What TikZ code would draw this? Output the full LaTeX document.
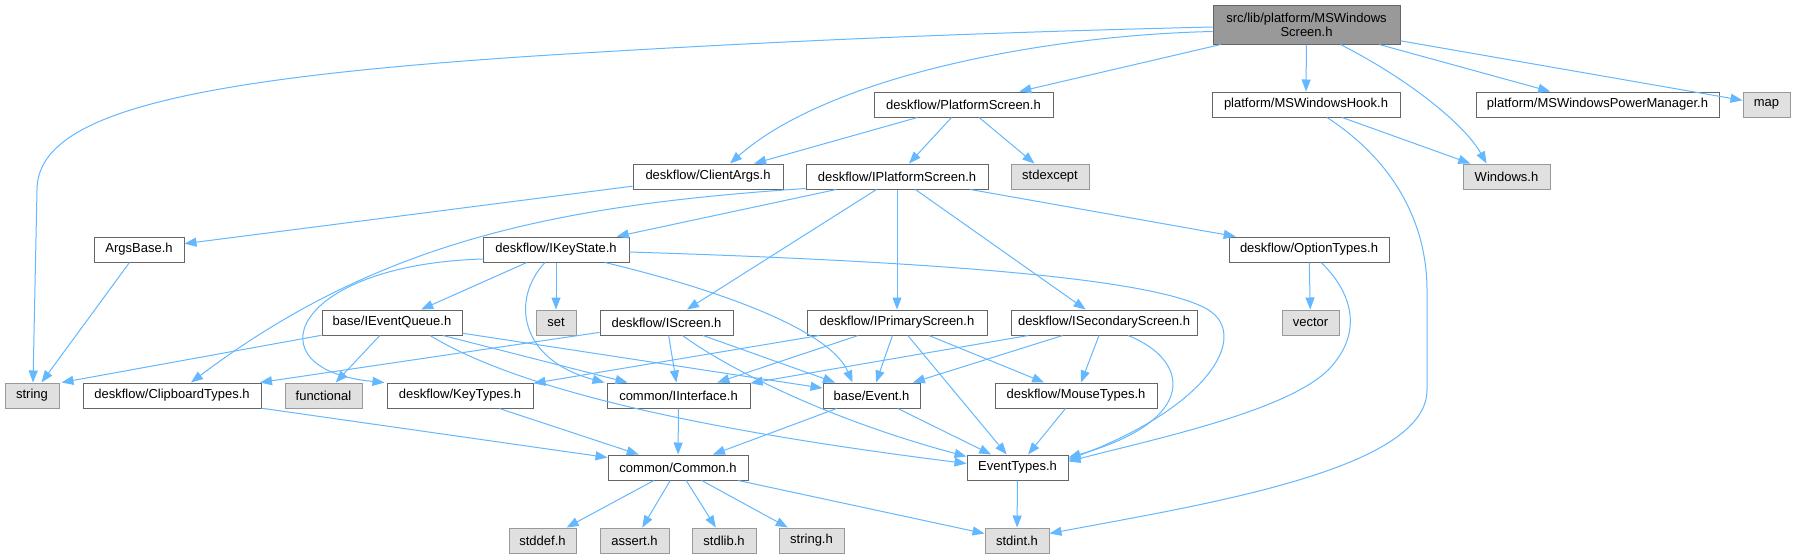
\documentclass[tikz,border=0pt]{standalone}
\usepackage{fontspec}
\setmainfont{Liberation Sans}
\usetikzlibrary{arrows.meta,calc}
\definecolor{edgec}{HTML}{63B8FF}
\definecolor{bordc}{HTML}{666666}
\definecolor{gbord}{HTML}{999999}
\definecolor{gfill}{HTML}{E0E0E0}
\definecolor{rootfill}{HTML}{999999}
\begin{document}
\begin{tikzpicture}[x=1pt,y=-1pt,
  box/.style={draw=bordc, fill=white, line width=1pt, inner sep=0pt, minimum height=25pt,
    font=\fontsize{13}{14}\selectfont, text=black},
  sys/.style={box, draw=gbord, fill=gfill},
  edge/.style={draw=edgec, line width=1pt, -{Triangle[length=12pt,width=9pt]}}]
\fill[white] (0,0) rectangle (1795,558);
\useasboundingbox (0,0) rectangle (1795,558);
% nodes
\node[box, fill=rootfill, minimum width=187pt, minimum height=39pt, align=center] (root) at (1306.5,24.5) {src/lib/platform/MSWindows\\Screen.h};
\node[box, minimum width=179pt] (ps) at (963.5,104.5) {deskflow/PlatformScreen.h};
\node[box, minimum width=150pt] (ca) at (708,176.5) {deskflow/ClientArgs.h};
\node[box, minimum width=182pt] (ips) at (897,176.5) {deskflow/IPlatformScreen.h};
\node[sys, minimum width=78pt] (stdexc) at (1050,176.5) {stdexcept};
\node[box, minimum width=188pt] (hook) at (1306,104.5) {platform/MSWindowsHook.h};
\node[box, minimum width=243pt] (pm) at (1597.5,104.5) {platform/MSWindowsPowerManager.h};
\node[sys, minimum width=47pt] (map) at (1766.5,104.5) {map};
\node[sys, minimum width=87pt] (win) at (1506.5,176.5) {Windows.h};
\node[box, minimum width=160pt] (opt) at (1309,249.5) {deskflow/OptionTypes.h};
\node[box, minimum width=90pt] (ab) at (139,249.5) {ArgsBase.h};
\node[box, minimum width=146pt] (iks) at (556,249.5) {deskflow/IKeyState.h};
\node[box, minimum width=140pt] (ieq) at (392,322.5) {base/IEventQueue.h};
\node[sys, minimum width=40pt] (setn) at (556,322.5) {set};
\node[box, minimum width=133pt] (iscr) at (666.5,322.5) {deskflow/IScreen.h};
\node[box, minimum width=180pt] (ipri) at (897,322.5) {deskflow/IPrimaryScreen.h};
\node[box, minimum width=186pt] (isec) at (1104,322.5) {deskflow/ISecondaryScreen.h};
\node[sys, minimum width=57pt] (vec) at (1310.5,322.5) {vector};
\node[sys, minimum width=54pt] (str) at (32,395.5) {string};
\node[box, minimum width=178pt] (clip) at (172,395.5) {deskflow/ClipboardTypes.h};
\node[sys, minimum width=77pt] (func) at (323.5,395.5) {functional};
\node[box, minimum width=146pt] (kt) at (460,395.5) {deskflow/KeyTypes.h};
\node[box, minimum width=143pt] (ii) at (678.5,395.5) {common/IInterface.h};
\node[box, minimum width=97pt] (ev) at (871.5,395.5) {base/Event.h};
\node[box, minimum width=162pt] (mt) at (1076,395.5) {deskflow/MouseTypes.h};
\node[box, minimum width=140pt] (com) at (678,467.5) {common/Common.h};
\node[box, minimum width=101pt] (et) at (1017.5,467.5) {EventTypes.h};
\node[sys, minimum width=67pt] (stddef) at (542.5,540.5) {stddef.h};
\node[sys, minimum width=69pt] (asrt) at (634.5,540.5) {assert.h};
\node[sys, minimum width=64pt] (stdlib) at (724,540.5) {stdlib.h};
\node[sys, minimum width=65pt] (strh) at (811.5,540.5) {string.h};
\node[sys, minimum width=64pt] (stdint) at (1017,540.5) {stdint.h};
% root edges
\draw[edge] ($(root.west)+(0,2.5)$) .. controls (1000,32) and (800,40) .. (600,52) .. controls (200,75) and (37,110) .. (37,190) -- ($(str.north)+(1,0)$);
\draw[edge] ($(root.west)+(0,7)$) .. controls (1050,35) and (830,75) .. ($(ca.north)+(22,0)$);
\draw[edge] (root) -- (ps);
\draw[edge] (root) -- (hook);
\draw[edge] ($(root.south)+(34,0)$) .. controls (1410,80) and (1465,125) .. ($(win.north)+(-20,0)$);
\draw[edge] (root) -- (pm);
\draw[edge] (root) -- (map);
% second level
\draw[edge] (ps) -- (ca);
\draw[edge] (ps) -- (ips);
\draw[edge] (ps) -- (stdexc);
\draw[edge] (ca) -- (ab);
\draw[edge] (ab) -- (str);
\draw[edge] (hook) -- (win);
\draw[edge] ($(hook.south)+(21,0)$) .. controls (1400,165) and (1427,230) .. (1427,290) -- (1427,390) .. controls (1427,470) and (1200,505) .. ($(stdint.east)+(0,-7)$);
% IPlatformScreen
\draw[edge] ($(ips.south west)+(0,-1)$) .. controls (560,205) and (380,240) .. ($(clip.north)+(19,0)$);
\draw[edge] (ips) -- (iks);
\draw[edge] (ips) -- (iscr);
\draw[edge] (ips) -- (ipri);
\draw[edge] (ips) -- (isec);
\draw[edge] (ips) -- (opt);
\draw[edge] (opt) -- (vec);
\draw[edge] ($(opt.south)+(12,0)$) .. controls (1350,290) and (1365,330) .. (1330,368) .. controls (1290,411) and (1150,440) .. ($(et.east)+(0,-6)$);
% IKeyState
\draw[edge] (iks) -- (ieq);
\draw[edge] (iks) -- (setn);
\draw[edge] ($(iks.west)+(0,9.5)$) .. controls (290,265) and (250,370) .. ($(kt.north west)+(-2,0)$);
\draw[edge] ($(iks.south)+(-11,0)$) .. controls (510,300) and (520,360) .. ($(ii.north west)+(-2,0)$);
\draw[edge] ($(iks.south)+(49,0)$) .. controls (720,290) and (830,330) .. ($(ev.north)+(-19,0)$);
\draw[edge] ($(iks.east)+(0,2.5)$) .. controls (950,262) and (1180,280) .. (1215,315) .. controls (1245,345) and (1200,410) .. ($(et.east)+(0,-8)$);
% IEventQueue
\draw[edge] (ieq) -- ($(str.north east)+(2,0)$);
\draw[edge] (ieq) -- (func);
\draw[edge] (ieq) -- (ii);
\draw[edge] (ieq) -- (ev);
\draw[edge] ($(ieq.south)+(38,0)$) .. controls (520,390) and (700,430) .. ($(et.west)+(0,-4)$);
% IScreen
\draw[edge] (iscr) -- (clip);
\draw[edge] (iscr) -- (ii);
\draw[edge] (iscr) -- (ev);
\draw[edge] ($(iscr.south)+(16,0)$) .. controls (730,370) and (830,420) .. ($(et.west)+(0,-11)$);
% IPrimaryScreen
\draw[edge] (ipri) -- (kt);
\draw[edge] (ipri) -- (ii);
\draw[edge] (ipri) -- (ev);
\draw[edge] (ipri) -- (et);
\draw[edge] (ipri) -- (mt);
% ISecondaryScreen
\draw[edge] (isec) -- (ii);
\draw[edge] (isec) -- (ev);
\draw[edge] (isec) -- (mt);
\draw[edge] ($(isec.south)+(24,0)$) .. controls (1190,360) and (1200,420) .. ($(et.east)+(0,-10)$);
% lower
\draw[edge] (clip) -- (com);
\draw[edge] (kt) -- (com);
\draw[edge] (ii) -- (com);
\draw[edge] (ev) -- (com);
\draw[edge] (ev) -- (et);
\draw[edge] (mt) -- (et);
\draw[edge] (et) -- (stdint);
\draw[edge] (com) -- (stddef);
\draw[edge] (com) -- (asrt);
\draw[edge] (com) -- (stdlib);
\draw[edge] (com) -- (strh);
\draw[edge] (com) -- (stdint);
\end{tikzpicture}
\end{document}
